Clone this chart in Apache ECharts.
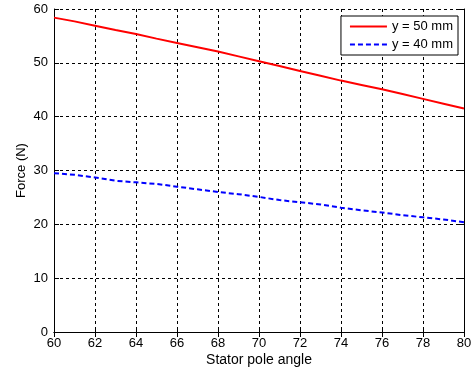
<!DOCTYPE html>
<html><head><meta charset="utf-8">
<script src="https://cdn.jsdelivr.net/npm/echarts@6/dist/echarts.min.js"></script>
<style>html,body{margin:0;padding:0;background:#fff}#c{width:471px;height:373px}</style>
</head><body><div id="c"></div>
<script>
const angles = [60,61,62,63,64,65,66,67,68,69,70,71,72,73,74,75,76,77,78,79,80];
const force50 = [58.4,57.7,56.9,56.1,55.35,54.5,53.7,52.9,52.1,51.2,50.3,49.4,48.5,47.6,46.7,45.9,45.1,44.2,43.3,42.4,41.5];
const force40 = [29.5,29.2,28.7,28.1,27.8,27.5,27.0,26.5,26.0,25.6,25.1,24.5,24.1,23.7,23.1,22.6,22.2,21.7,21.3,20.9,20.4];
const seriesNames = ['y = 50 mm','y = 40 mm'];

const font = 'Liberation Sans, Arial, sans-serif';
const chart = echarts.init(document.getElementById('c'));
const gridDash = {type:[3,3], color:'#000', width:1};
chart.setOption({
  animation:false,
  backgroundColor:'#fff',
  grid:{left:54, right:7, top:9, bottom:41, containLabel:false, outerBoundsMode:'none'},
  legend:{
    show:true,
    right:13, top:16, orient:'vertical',
    backgroundColor:'#fff', borderColor:'#000', borderWidth:1,
    padding:[4,5,4,8], itemGap:5, itemWidth:37, itemHeight:12,
    textStyle:{fontFamily:font, fontSize:13, color:'#000'},
    itemStyle:{opacity:0},
    data:seriesNames
  },
  xAxis:[{
    type:'value', min:60, max:80, interval:2,
    name:'Stator pole angle', nameLocation:'middle', nameGap:21, nameMoveOverlap:false,
    nameTextStyle:{fontFamily:font, fontSize:14, color:'#000'},
    axisLine:{lineStyle:{color:'#000', width:1}},
    axisTick:{inside:true, length:5, lineStyle:{color:'#000'}},
    axisLabel:{fontFamily:font, fontSize:13, color:'#000', margin:5},
    splitLine:{show:true, lineStyle:gridDash}
  },{
    type:'value', min:60, max:80, interval:2, position:'top',
    axisLine:{show:true, lineStyle:{color:'#000', width:1}},
    axisTick:{inside:true, length:5, lineStyle:{color:'#000'}},
    axisLabel:{show:false}, splitLine:{show:false}
  }],
  yAxis:[{
    type:'value', min:0, max:60, interval:10,
    name:'Force (N)', nameLocation:'middle', nameGap:26, nameMoveOverlap:false,
    nameTextStyle:{fontFamily:font, fontSize:13, color:'#000'},
    axisLine:{show:true, lineStyle:{color:'#000', width:1}},
    axisTick:{show:true, inside:true, length:5, lineStyle:{color:'#000'}},
    axisLabel:{fontFamily:font, fontSize:13, color:'#000', margin:6},
    splitLine:{show:true, lineStyle:gridDash}
  },{
    type:'value', min:0, max:60, interval:10, position:'right',
    axisLine:{show:true, lineStyle:{color:'#000', width:1}},
    axisTick:{show:true, inside:true, length:5, lineStyle:{color:'#000'}},
    axisLabel:{show:false}, splitLine:{show:false}
  }],
  series:[{
    name:seriesNames[0], type:'line', symbol:'none',
    data:angles.map((a,i)=>[a,force50[i]]),
    lineStyle:{color:'#ff0000', width:2}, itemStyle:{color:'#ff0000'}
  },{
    name:seriesNames[1], type:'line', symbol:'none',
    data:angles.map((a,i)=>[a,force40[i]]),
    lineStyle:{color:'#0000ff', width:2, type:[5,3]}, itemStyle:{color:'#0000ff'}
  }]
});
</script></body></html>
